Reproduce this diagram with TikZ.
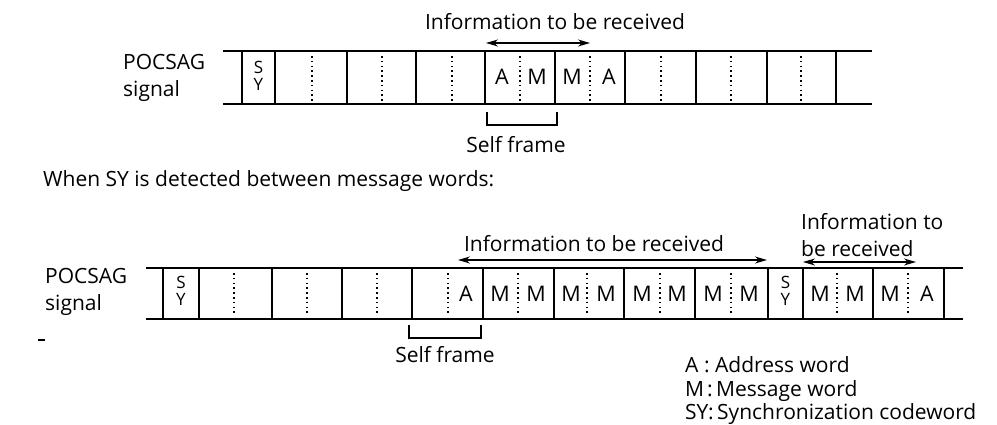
\documentclass[tikz,border=0pt]{standalone}
\usepackage{fontspec}
\setmainfont{Open Sans}
\usetikzlibrary{arrows.meta}
\begin{document}
\begin{tikzpicture}[x=1pt,y=-1pt,
  rail/.style={line width=1.6pt},
  wall/.style={line width=1.6pt},
  dots/.style={line width=1.6pt,dash pattern=on 1.6pt off 3.2pt},
  lbl/.style={inner sep=0pt,font=\fontsize{21.5}{21}\selectfont},
  txt/.style={inner sep=0pt,font=\fontsize{21}{26.5}\selectfont,align=left},
  sy/.style={inner sep=0pt,font=\fontsize{17}{17.5}\selectfont,align=center},
  dbl/.style={line width=1.5pt,{Stealth[length=12pt,width=7pt]}-{Stealth[length=12pt,width=7pt]}},
  brk/.style={line width=1.6pt}]
\useasboundingbox (0,0) rectangle (997,425);
% ---------- top row ----------
\draw[rail] (223,51) -- (872,51);
\draw[rail] (223,104) -- (872,104);
\foreach \x in {242,275,347,416,485,555,625,696,767,836}
  \draw[wall] (\x,51) -- (\x,104);
\foreach \x in {312,382,452,520,590,661,731,801}
  \draw[dots] (\x,56) -- (\x,101);
\node[txt,anchor=west] (sig1) at (123,78) {POCSAG\\signal};
\node[sy] (sy1) at (258.5,76) {S\\Y};
\node[lbl] (a1) at (502,77) {A};
\node[lbl] (m1) at (537,77) {M};
\node[lbl] (m2) at (572,77) {M};
\node[lbl] (a2) at (609,77) {A};
\node[txt] (info1) at (555,22) {Information to be received};
\coordinate (i1l) at (486,43);
\coordinate (i1r) at (590,43);
\draw[dbl] (i1l) -- (i1r);
\coordinate (b1a) at (487,112);
\coordinate (b1b) at (557,112);
\draw[brk] (b1a) -- ++(0,13) -| (b1b);
\node[txt] (self1) at (516,145) {Self frame};
% ---------- caption ----------
\node[txt,anchor=west] (when) at (43,181) {When SY is detected between message words:};
% ---------- bottom row ----------
\draw[rail] (146,268) -- (963,268);
\draw[rail] (146,319) -- (963,319);
\foreach \x in {163,199,272,342,412,483,554,624,695,768,803,873,944}
  \draw[wall] (\x,268) -- (\x,319);
\foreach \x in {234,307,377,448,518,587,660,731,837,908}
  \draw[dots] (\x,273) -- (\x,316);
\node[txt,anchor=west] (sig2) at (45,292) {POCSAG\\signal};
\node[sy] (sy2) at (181,291) {S\\Y};
\node[sy] (sy3) at (785.5,291) {S\\Y};
\node[lbl] (ba) at (466,294) {A};
\foreach \x/\n in {500/1,536/2,571/3,606/4,642/5,677/6,713/7,749/8,820/9,855/10,890/11}
  \node[lbl] (bm\n) at (\x,294) {M};
\node[lbl] (bb) at (927,294) {A};
\node[txt] (info2) at (594,244) {Information to be received};
\coordinate (i2l) at (458,260);
\coordinate (i2r) at (767,260);
\draw[dbl] (i2l) -- (i2r);
\node[txt,anchor=west] (info3) at (801,235) {Information to\\be received};
\coordinate (i3l) at (803,262);
\coordinate (i3r) at (916,262);
\draw[dbl] (i3l) -- (i3r);
\coordinate (b2a) at (409,325);
\coordinate (b2b) at (481,325);
\draw[brk] (b2a) -- ++(0,13) -| (b2b);
\node[txt] (self2) at (445,355) {Self frame};
\coordinate (d1) at (38,340);
\coordinate (d2) at (45,340);
\draw[line width=1.2pt] (d1) -- (d2);
% ---------- legend ----------
\node[txt,anchor=base west] (la) at (685,372) {A};
\node[txt,anchor=base] (ca) at (707,372) {:};
\node[txt,anchor=base west] (ta) at (715,372) {Address word};
\node[txt,anchor=base west] (lm) at (685,396) {M};
\node[txt,anchor=base] (cm) at (710,396) {:};
\node[txt,anchor=base west] (tm) at (716,396) {Message word};
\node[txt,anchor=base west] (ls) at (685,419) {SY};
\node[txt,anchor=base] (cs) at (711,419) {:};
\node[txt,anchor=base west] (ts) at (717,419) {Synchronization codeword};
\end{tikzpicture}
\end{document}
